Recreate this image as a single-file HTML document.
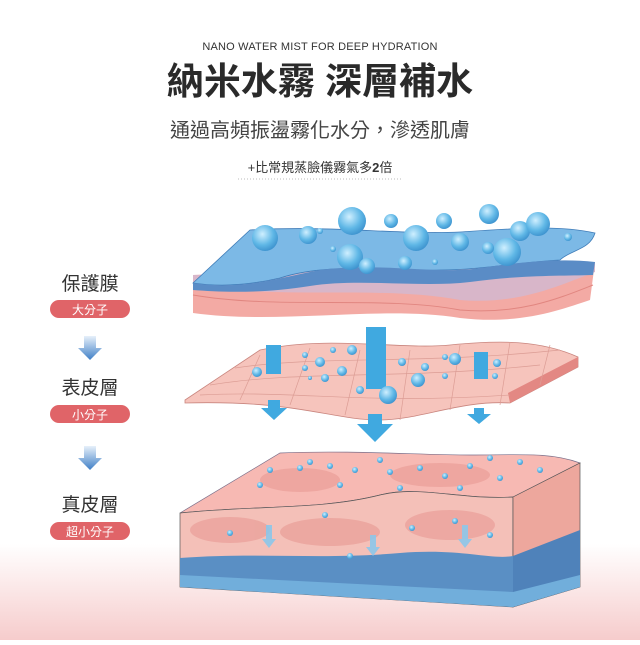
<!DOCTYPE html>
<html><head><meta charset="utf-8"><style>
body{margin:0;width:640px;height:640px;overflow:hidden;background:#fff;font-family:"Liberation Sans","Noto Sans CJK TC",sans-serif}
</style></head><body>
<svg width="640" height="640" viewBox="0 0 640 640" xmlns="http://www.w3.org/2000/svg">
<defs>
<linearGradient id="bg" x1="0" y1="0" x2="0" y2="1">
<stop offset="0" stop-color="#fff"/><stop offset="0.85" stop-color="#fff"/><stop offset="1" stop-color="#f6cccc"/></linearGradient>
<radialGradient id="drop" cx="0.4" cy="0.35" r="0.7">
<stop offset="0" stop-color="#cfefff"/><stop offset="0.6" stop-color="#5fb7e6"/><stop offset="1" stop-color="#3a8fcc"/></radialGradient>
<linearGradient id="arr" x1="0" y1="0" x2="0" y2="1">
<stop offset="0" stop-color="#e6f0fa"/><stop offset="1" stop-color="#3f7fc6"/></linearGradient>
</defs>
<rect width="640" height="640" fill="url(#bg)"/>
<text x="320" y="50" text-anchor="middle" font-size="11" fill="#333" letter-spacing="0.2">NANO WATER MIST FOR DEEP HYDRATION</text>
<text x="320" y="94" text-anchor="middle" font-size="37" font-weight="bold" fill="#2a2a2a">納米水霧 深層補水</text>
<text x="320" y="137" text-anchor="middle" font-size="20" fill="#444">通過高頻振盪霧化水分，滲透肌膚</text>
<text x="320" y="172" text-anchor="middle" font-size="13" fill="#333">+比常規蒸臉儀霧氣多<tspan font-weight="bold">2</tspan>倍</text>
<line x1="238" y1="179" x2="402" y2="179" stroke="#bbb" stroke-dasharray="1 2"/>

<g font-size="19" fill="#333" text-anchor="middle">
<text x="90" y="290">保護膜</text>
<text x="90" y="394">表皮層</text>
<text x="90" y="511">真皮層</text>
</g>
<g fill="#e06468">
<rect x="50" y="300" width="80" height="18" rx="9"/>
<rect x="50" y="405" width="80" height="18" rx="9"/>
<rect x="50" y="522" width="80" height="18" rx="9"/>
</g>
<g font-size="12" fill="#fff" text-anchor="middle">
<text x="90" y="314">大分子</text><text x="90" y="419">小分子</text><text x="90" y="536">超小分子</text>
</g>
<g fill="url(#arr)">
<path d="M84 336h12v12h6l-12 12-12-12h6z"/>
<path d="M84 446h12v12h6l-12 12-12-12h6z"/>
</g>

<path d="M180 513 L280 453 C350 450 420 455 470 455 C520 455 550 452 580 463 L580 587 L513 607 L180 587 Z" fill="#f3b4ab"/>
<path d="M180 513 L280 453 C350 450 420 455 470 455 C520 455 550 452 580 463 L513 497 C460 500 420 485 380 495 C320 510 260 505 180 513 Z" fill="#f7b9b3" stroke="#7a6f8a" stroke-width="0.7"/>
<path d="M180 513 C260 505 320 510 380 495 C420 485 460 500 513 497 L513 607 L180 587 Z" fill="#f4c0b8" stroke="#555" stroke-width="0.7"/>
<path d="M513 497 L580 463 L580 587 L513 607 Z" fill="#eda79d" stroke="#555" stroke-width="0.7"/>
<path d="M180 558 C260 552 320 560 400 553 C460 548 490 560 513 556 L513 607 L180 587 Z" fill="#5a8fc4"/>
<path d="M513 556 L580 530 L580 587 L513 607 Z" fill="#4f82ba"/>
<path d="M180 575 L513 592 L580 575 L580 587 L513 607 L180 587Z" fill="#71aedb"/>
<g fill="#e99e98" opacity="0.7">
<ellipse cx="230" cy="530" rx="40" ry="13"/><ellipse cx="330" cy="532" rx="50" ry="14"/><ellipse cx="450" cy="525" rx="45" ry="15"/>
<ellipse cx="300" cy="480" rx="40" ry="12"/><ellipse cx="440" cy="475" rx="50" ry="12"/>
</g>
<g fill="url(#drop)">
<circle cx="270" cy="470" r="3"/><circle cx="300" cy="468" r="3"/><circle cx="330" cy="466" r="3"/><circle cx="355" cy="470" r="3"/><circle cx="390" cy="472" r="3"/><circle cx="420" cy="468" r="3"/><circle cx="445" cy="476" r="3"/><circle cx="470" cy="466" r="3"/><circle cx="500" cy="478" r="3"/><circle cx="520" cy="462" r="3"/><circle cx="540" cy="470" r="3"/><circle cx="260" cy="485" r="3"/><circle cx="340" cy="485" r="3"/><circle cx="400" cy="488" r="3"/><circle cx="460" cy="488" r="3"/><circle cx="310" cy="462" r="3"/><circle cx="380" cy="460" r="3"/><circle cx="490" cy="458" r="3"/><circle cx="230" cy="533" r="3"/><circle cx="325" cy="515" r="3"/><circle cx="412" cy="528" r="3"/><circle cx="455" cy="521" r="3"/><circle cx="490" cy="535" r="3"/><circle cx="350" cy="556" r="3"/>
</g>
<g fill="#8cc7ea" opacity="0.9">
<path d="M266 525h6v14h4l-7 9-7-9h4z"/><path d="M370 535h6v12h4l-7 9-7-9h4z"/><path d="M462 525h6v14h4l-7 9-7-9h4z"/>
</g>

<path d="M185 400 L260 350 C330 335 400 350 450 345 C500 340 540 340 578 357 L578 367 L510 403 C460 400 420 420 380 420 C330 420 300 400 185 403 Z" fill="#f6c4bc" stroke="#c9857e" stroke-width="0.8"/>
<path d="M510 403 L578 367 L578 357 L508 393Z" fill="#e38883"/>
<g stroke="#dc9d95" stroke-width="0.7" fill="none">
<path d="M210 385 C300 370 400 380 540 365"/><path d="M235 368 C320 355 420 365 560 350"/><path d="M200 395 C300 390 360 405 510 395"/>
<path d="M260 355 L240 400"/><path d="M310 348 L290 405"/><path d="M360 350 L345 415"/><path d="M410 350 L400 420"/><path d="M460 345 L450 410"/><path d="M510 342 L500 405"/><path d="M550 345 L540 385"/>
</g>
<g fill="#40a9e0">
<path d="M266 345h15v29h-15z"/><path d="M366 327h20v62h-20z"/><path d="M474 352h14v27h-14z"/>
<path d="M268 400h12v8h7l-13 12-13-12h7z"/><path d="M368 414h14v10h11l-18 18-18-18h11z"/><path d="M474 408h10v6h7l-12 10-12-10h7z"/>
</g>
<g fill="url(#drop)">
<circle cx="305" cy="355" r="3"/><circle cx="320" cy="362" r="5"/><circle cx="342" cy="371" r="5"/><circle cx="325" cy="378" r="4"/><circle cx="305" cy="368" r="3"/><circle cx="352" cy="350" r="5"/><circle cx="333" cy="350" r="3"/><circle cx="388" cy="395" r="9"/><circle cx="418" cy="380" r="7"/><circle cx="402" cy="362" r="4"/><circle cx="445" cy="357" r="3"/><circle cx="455" cy="359" r="6"/><circle cx="497" cy="363" r="4"/><circle cx="495" cy="376" r="3"/><circle cx="360" cy="390" r="4"/><circle cx="310" cy="378" r="2"/><circle cx="257" cy="372" r="5"/><circle cx="425" cy="367" r="4"/><circle cx="445" cy="376" r="3"/>
</g>

<path d="M193 275 L193 313 C280 325 380 305 460 318 C520 325 560 310 590 300 L595 262 Z" fill="#f3aaa4"/>
<path d="M193 285 C280 300 380 285 460 300 C520 305 560 285 595 272 L595 262 L193 275Z" fill="#d8b6c9"/>
<path d="M193 295 C280 310 380 295 460 310 C520 315 560 298 593 285" stroke="#e18680" fill="none"/>
<path d="M193 283 L250 230 C330 225 400 235 460 232 C520 228 560 225 595 233 C590 250 570 250 560 260 C520 262 480 270 440 270 C380 272 330 262 280 278 C250 285 220 287 193 283Z" fill="#7cb9e6" stroke="#3f7cb8" stroke-width="0.8"/>
<path d="M193 283 C240 290 270 280 320 270 C380 262 440 275 480 268 C520 262 560 258 595 262 L593 275 C560 276 520 275 470 282 C420 288 360 278 310 286 C260 294 220 292 193 290Z" fill="#5a8cc6"/>
<g fill="url(#drop)">
<circle cx="352" cy="221" r="14"/><circle cx="391" cy="221" r="7"/><circle cx="444" cy="221" r="8"/><circle cx="489" cy="214" r="10"/><circle cx="520" cy="231" r="10"/><circle cx="538" cy="224" r="12"/><circle cx="265" cy="238" r="13"/><circle cx="308" cy="235" r="9"/><circle cx="350" cy="257" r="13"/><circle cx="416" cy="238" r="13"/><circle cx="460" cy="242" r="9"/><circle cx="507" cy="252" r="14"/><circle cx="488" cy="248" r="6"/><circle cx="367" cy="266" r="8"/><circle cx="405" cy="263" r="7"/><circle cx="435" cy="262" r="3"/><circle cx="320" cy="231" r="3"/><circle cx="568" cy="237" r="4"/><circle cx="333" cy="249" r="3"/>
</g>
</svg>
</body></html>
